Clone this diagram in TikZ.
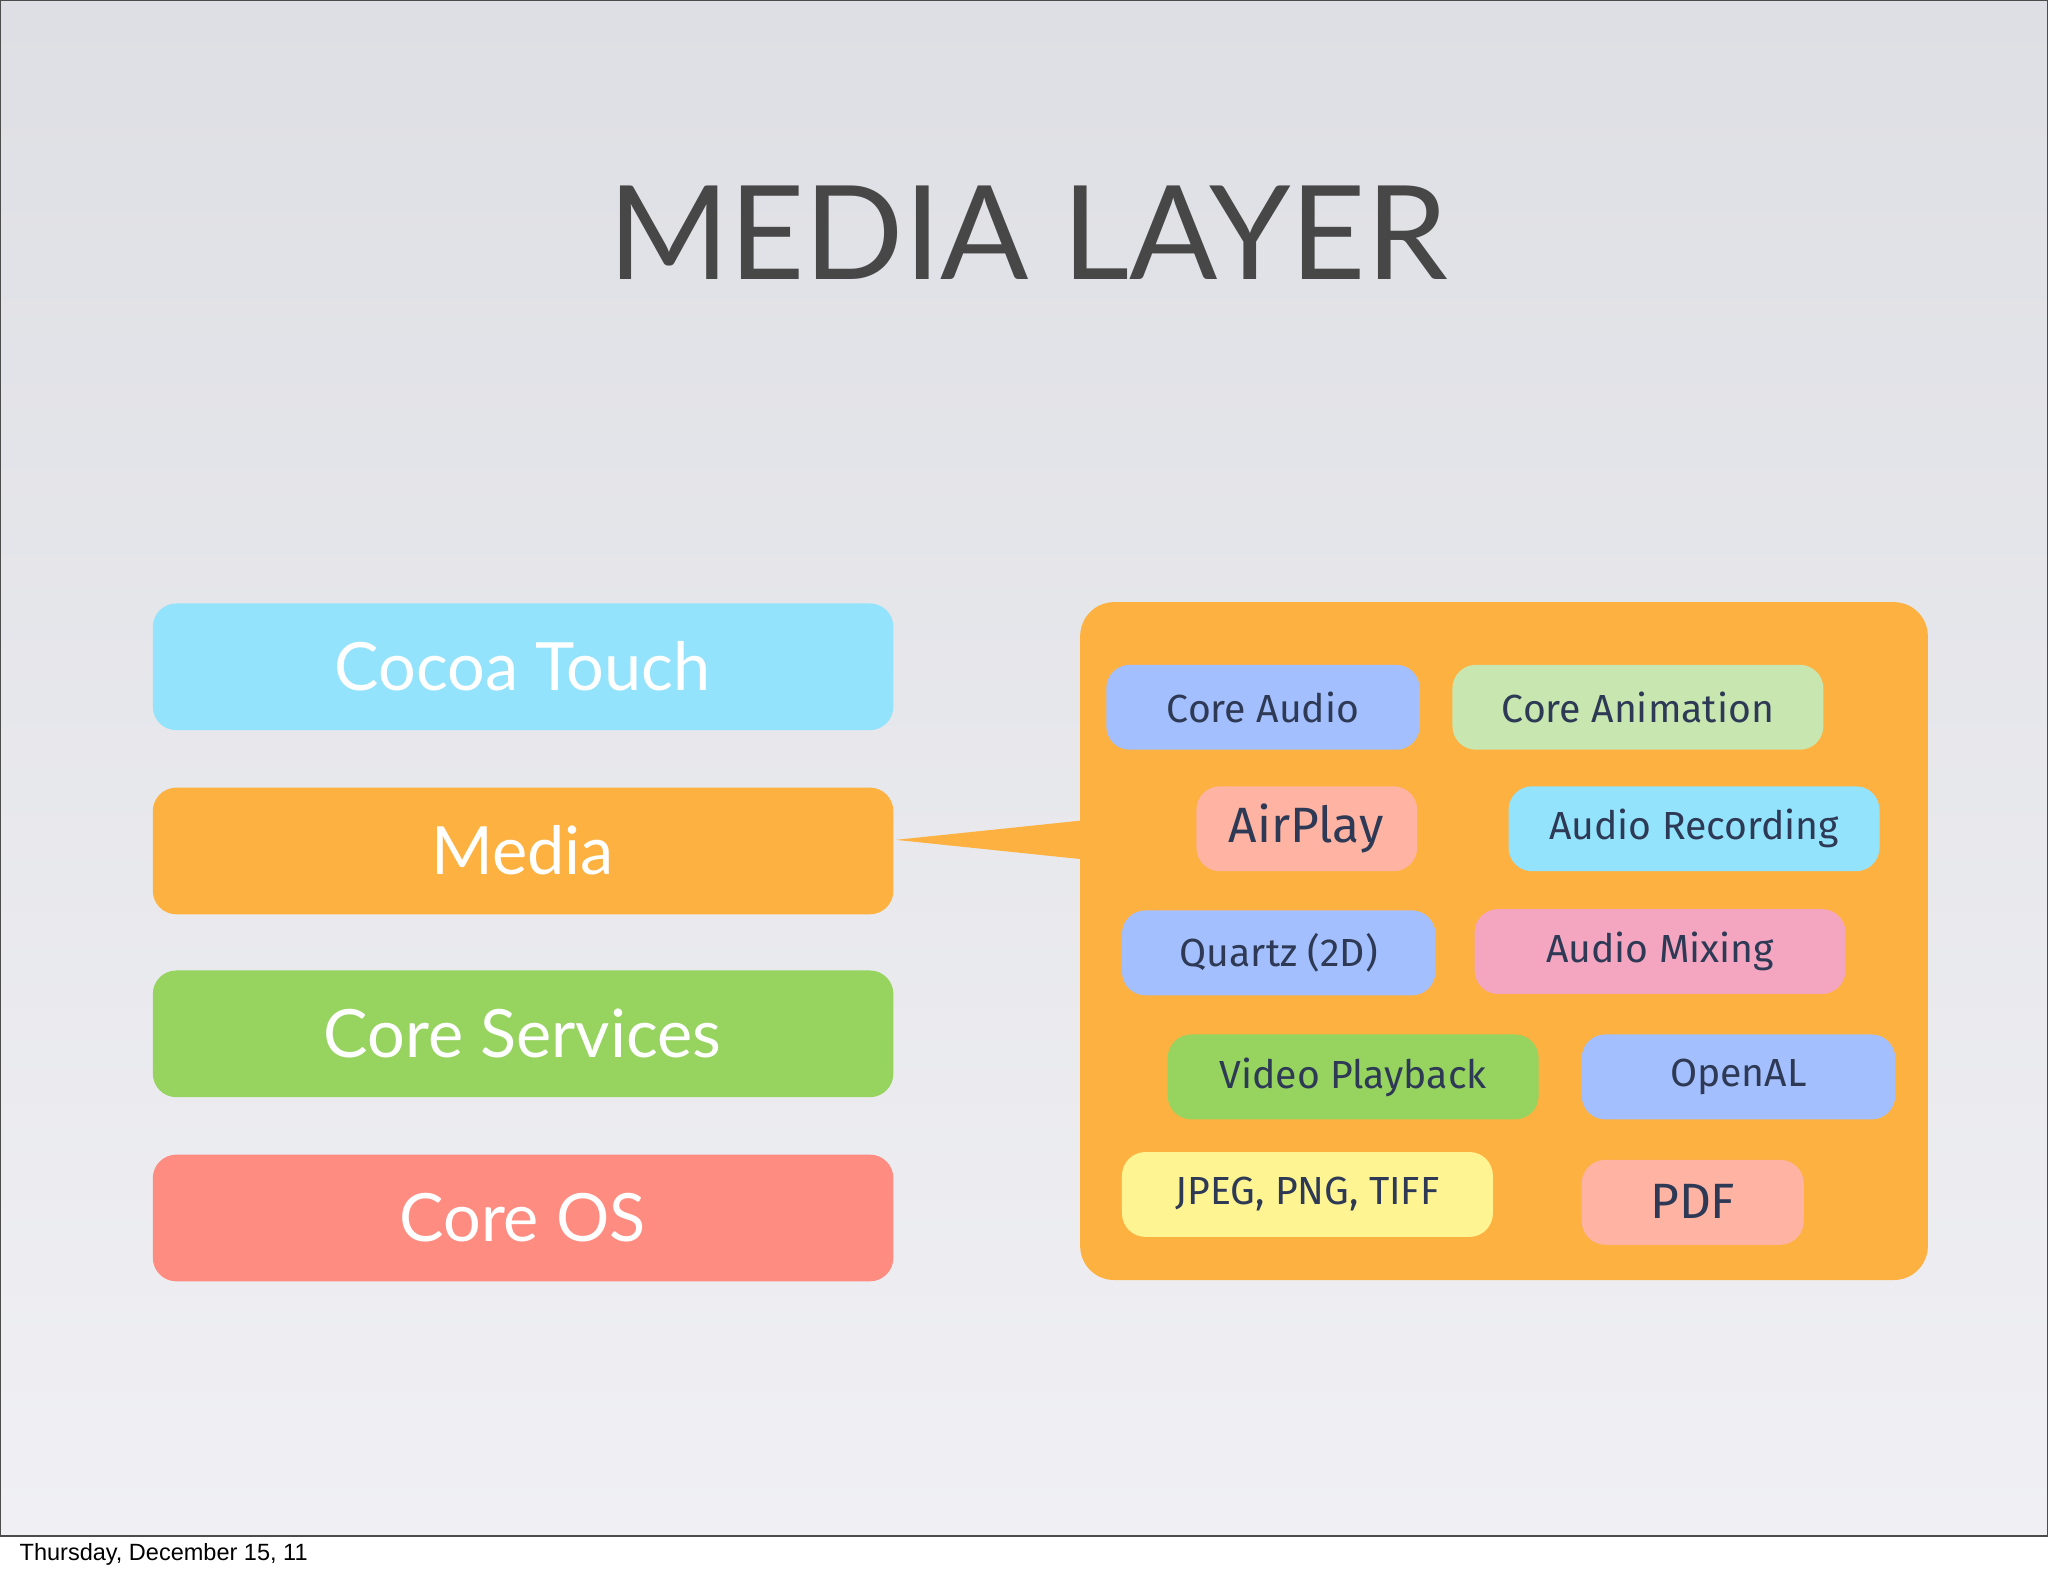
\documentclass[tikz,border=0pt]{standalone}
\usepackage{fontspec}
\setmainfont{Lato}
\newfontfamily\smallf{Fira Sans}
\newfontfamily\datef{Liberation Sans}
\definecolor{cya}{HTML}{94E3FC}
\definecolor{org}{HTML}{FDB140}
\definecolor{grn}{HTML}{96D35F}
\definecolor{rd}{HTML}{FF8C80}
\definecolor{blu}{HTML}{A4BFFD}
\definecolor{lgr}{HTML}{C8E6B0}
\definecolor{sal}{HTML}{FFB3A3}
\definecolor{pnk}{HTML}{F4A6C0}
\definecolor{yel}{HTML}{FEF492}
\definecolor{txt}{HTML}{2E3A55}
\definecolor{bgtop}{HTML}{DEDFE4}
\definecolor{bgmid}{HTML}{ECEDF1}
\definecolor{bgbot}{HTML}{F0F0F4}
\begin{document}
\begin{tikzpicture}[x=0.5pt,y=-0.5pt]
\useasboundingbox (0,0) rectangle (1568,1206);
\fill[white] (0,0) rectangle (1568,1206);
\shade[top color=bgtop,middle color=bgmid,bottom color=bgbot] (0,0) rectangle (1568,1176);
\draw[black!70,line width=0.6pt] (0,0) rectangle (1568,1176);
\node[text=black!72,font=\fontsize{50}{52}\selectfont] (title) at (787,178) {MEDIA LAYER};
\node[font=\datef\fontsize{9}{10}\selectfont,anchor=west] (date) at (8,1190) {Thursday, December 15, 11};
% left layers
\foreach \n/\c/\y/\t in {ct/cya/462/Cocoa Touch,md/org/603/Media,cs/grn/743/Core Services,co/rd/884/Core OS}{
 \fill[\c,rounded corners=9pt] (117,\y) rectangle (684,\y+97);
 \node[text=white,font=\fontsize{25.5}{30}\selectfont] (\n) at (400,\y+48) {\t};
}
% panel and callout
\fill[org,rounded corners=13pt] (827,461) rectangle (1476,980);
\coordinate (tip) at (686,643);
\fill[org] (tip) -- (830,628) -- (830,658) -- cycle;
% chips
\foreach \n/\c/\xa/\ya/\xb/\yb/\t in {
 ca/blu/847/509/1087/574/Core Audio,
 can/lgr/1112/509/1396/574/Core Animation,
 ar/cya/1155/602/1439/667/Audio Recording,
 qz/blu/859/697/1099/762/Quartz (2D),
 am/pnk/1129/696/1413/761/Audio Mixing,
 vp/grn/894/792/1178/857/Video Playback,
 oal/blu/1211/792/1451/857/OpenAL,
 jp/yel/859/882/1143/947/{JPEG, PNG, TIFF}}{
 \fill[\c,rounded corners=9pt] (\xa,\ya) rectangle (\xb,\yb);
 \node[text=txt,font=\smallf\fontsize{15}{18}\selectfont] (\n) at ({(\xa+\xb)/2},{(\ya+\yb)/2}) {\t};
}
\fill[sal,rounded corners=9pt] (916,602) rectangle (1085,667);
\node[text=txt,font=\smallf\fontsize{19}{22}\selectfont] (ap) at (1000,634) {AirPlay};
\fill[sal,rounded corners=9pt] (1211,888) rectangle (1381,953);
\node[text=txt,font=\smallf\fontsize{19}{22}\selectfont] (pdf) at (1296,920) {PDF};
\end{tikzpicture}
\end{document}
